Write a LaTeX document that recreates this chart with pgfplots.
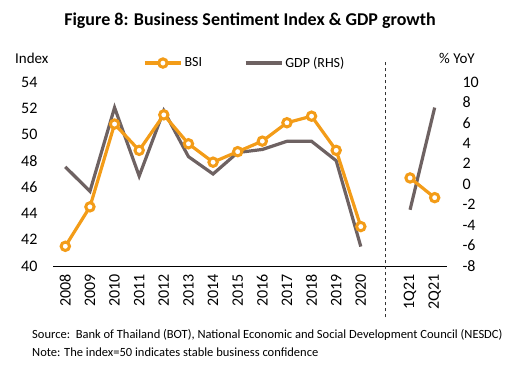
\documentclass[border=0pt]{standalone}
\usepackage{pgfplots}
\pgfplotsset{compat=1.18}
\usepackage{fontspec}
\setmainfont{Carlito}
\definecolor{bsi}{RGB}{243,156,24}
\definecolor{gdp}{RGB}{110,98,98}
\begin{document}
\begin{tikzpicture}[x=1pt,y=1pt]
\useasboundingbox (0,0) rectangle (515,368);
\pgfplotsset{
  every axis/.style={
    at={(53pt,102pt)}, anchor=south west,
    scale only axis, width=394pt, height=184pt,
    xmin=-0.5, xmax=15.5,
    font=\fontsize{16}{18}\selectfont,
    /pgf/number format/assume math mode=true,
    major tick length=0pt,
  },
}
\begin{axis}[
  axis x line*=bottom, axis y line*=left,
  y axis line style={draw=none},
  ymin=40, ymax=54, ytick={40,42,...,54},
  xtick={0,...,12,14,15},
  xticklabels={2008,2009,2010,2011,2012,2013,2014,2015,2016,2017,2018,2019,2020,1Q21,2Q21},
  xticklabel style={rotate=90, anchor=east, yshift=0pt, xshift=-5pt, font=\fontsize{16}{18}\selectfont},
  yticklabel style={xshift=-12pt},
  x axis line style={line width=0.8pt},
  clip=false,
  unbounded coords=jump,
]
\draw[dashed, line width=0.6pt, black!80] (axis cs:13,36.1) -- (axis cs:13,55.5);
\addplot[gdp, line width=3.2pt, opacity=0] coordinates {(0,40)};
\end{axis}
\begin{axis}[
  axis x line=none, axis y line*=right,
  y axis line style={draw=none},
  ymin=-8, ymax=10, ytick={-8,-6,...,10},
  yticklabel style={anchor=west, xshift=12pt},
  unbounded coords=jump,
  clip=false,
  legend style={draw=none, fill=none, at={(0.487,1.103)}, anchor=center,
    font=\fontsize{14}{16}\selectfont, legend columns=2,
    /tikz/every even column/.append style={column sep=40pt}},
  legend image code/.code={\draw[#1, mark=none] (0pt,0pt) -- (36pt,0pt);
    \draw[#1, only marks] plot coordinates {(18pt,0pt)};},
]
\addlegendimage{bsi, line width=3.2pt, mark=*, mark size=4.2pt, mark options={fill=white, line width=3pt}}
\addlegendentry{BSI}
\addplot[gdp, line width=3.2pt] coordinates {
 (0,1.7) (1,-0.7) (2,7.5) (3,0.8) (4,7.2) (5,2.7) (6,1.0) (7,3.1) (8,3.4) (9,4.2) (10,4.2) (11,2.3) (12,-6.1) (13,nan) (14,-2.5) (15,7.5)};
\addlegendentry{GDP (RHS)}
\end{axis}
\begin{axis}[
  axis lines=none,
  ymin=40, ymax=54,
  unbounded coords=jump,
  clip=false,
]
\addplot[bsi, line width=3.2pt, mark=*, mark size=4.2pt, mark options={fill=white, line width=3pt}] coordinates {
 (0,41.5) (1,44.5) (2,50.8) (3,48.8) (4,51.5) (5,49.3) (6,47.9) (7,48.7) (8,49.5) (9,50.9) (10,51.4) (11,48.8) (12,43.0) (13,nan) (14,46.7) (15,45.2)};
\end{axis}
\node[font=\fontsize{18}{20}\selectfont\bfseries] at (250,347) {Figure 8: Business Sentiment Index \& GDP growth};
\node[font=\fontsize{15}{17}\selectfont, anchor=base west, inner sep=0pt] at (15,305) {Index};
\node[font=\fontsize{15}{17}\selectfont, anchor=base, inner sep=0pt] at (457,305) {\% YoY};
\node[font=\fontsize{12.5}{14}\selectfont, anchor=base west, inner sep=0pt] at (32,30) {Source:\ \ Bank of Thailand (BOT), National Economic and Social Development Council (NESDC)};
\node[font=\fontsize{12.5}{14}\selectfont, anchor=base west, inner sep=0pt] at (32,12) {Note: The index=50 indicates stable business confidence};
\end{tikzpicture}
\end{document}
